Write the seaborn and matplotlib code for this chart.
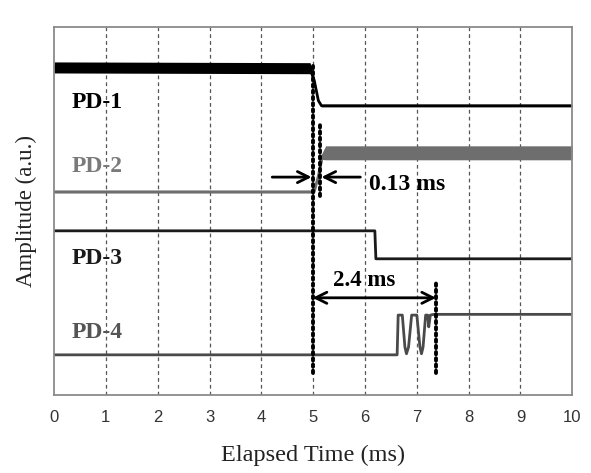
import matplotlib
matplotlib.use("Agg")
import matplotlib.pyplot as plt
from matplotlib import font_manager
import seaborn as sns
import pandas as pd

# ---- data ----
pd1_time = [0.0, 4.94, 5.02, 5.10, 5.16, 10.0]
pd1_amp = [8.90, 8.88, 8.55, 8.00, 7.86, 7.86]
pd1_noise = [0.15, 0.15, 0.06, 0.03, 0.03, 0.03]

pd2_time = [0.0, 5.02, 5.10, 5.18, 5.24, 10.0]
pd2_amp = [5.52, 5.52, 5.95, 6.50, 6.58, 6.58]
pd2_noise = [0.03, 0.03, 0.04, 0.10, 0.19, 0.19]

pd3_time = [0.0, 6.19, 6.21, 10.0]
pd3_amp = [4.46, 4.46, 3.70, 3.70]

pd4_time = [0.0, 6.62, 6.64, 6.72, 6.77, 6.80, 6.84, 6.90, 6.95, 7.00,
            7.06, 7.09, 7.12, 7.17, 7.21, 7.23, 7.26, 7.33, 10.0]
pd4_amp = [1.09, 1.09, 2.17, 2.17, 1.30, 1.12, 1.30, 2.17, 2.17, 2.17,
           1.30, 1.12, 1.30, 2.17, 2.17, 1.85, 2.17, 2.19, 2.19]

trace_labels = ["PD-1", "PD-2", "PD-3", "PD-4"]
label_x = [0.33, 0.33, 0.33, 0.33]
label_y = [7.96, 6.20, 3.72, 1.71]

x_ticks = [0, 1, 2, 3, 4, 5, 6, 7, 8, 9, 10]

marker_times = [4.99, 5.14, 7.37]
marker_ranges = [(8.95, 0.60), (7.40, 5.40), (3.05, 0.60)]

delay_small = "0.13 ms"
delay_large = "2.4 ms"

# ---- figure ----
sns.set_theme(style="white")
plt.rcParams["font.family"] = ["Liberation Serif", "DejaVu Serif"]

installed = {f.name for f in font_manager.fontManager.ttflist}
tick_font = "Liberation Sans Narrow" if "Liberation Sans Narrow" in installed else "Liberation Sans"
tick_size = 14 if tick_font == "Liberation Sans Narrow" else 12

fig = plt.figure(figsize=(5.91, 4.73), dpi=100)
ax = fig.add_axes([0.0914, 0.165, 0.877, 0.778])

traces = [
    (pd1_time, pd1_amp, pd1_noise, "#000000", 2.0),
    (pd2_time, pd2_amp, pd2_noise, "#6e6e6e", 2.0),
    (pd3_time, pd3_amp, None, "#1a1a1a", 2.0),
    (pd4_time, pd4_amp, None, "#4a4a4a", 2.0),
]
for t, a, n, c, lw in traces:
    df = pd.DataFrame({"t": t, "a": a})
    sns.lineplot(data=df, x="t", y="a", ax=ax, color=c, lw=lw,
                 estimator=None, sort=False, legend=False)
    if n is not None:
        lo = [v - e for v, e in zip(a, n)]
        hi = [v + e for v, e in zip(a, n)]
        ax.fill_between(t, lo, hi, color=c, lw=0)

# grid lines
for xt in x_ticks[1:-1]:
    ax.axvline(xt, color="#555555", lw=0.9, ls=(0, (3, 2.5)), zorder=0)

# dotted markers
for mt, (ytop, ybot) in zip(marker_times, marker_ranges):
    ax.plot([mt, mt], [ybot, ytop], color="black", lw=2.8,
            ls=(0, (0.6, 1.0)), dash_capstyle="round", zorder=5)

# arrows for 0.13 ms
arrow_kw = dict(arrowstyle="->", lw=2.0, color="black", mutation_scale=20,
                shrinkA=0, shrinkB=0)
ax.annotate("", xy=(marker_times[0] - 0.02, 5.92), xytext=(4.21, 5.92),
            arrowprops=arrow_kw)
ax.annotate("", xy=(marker_times[1] + 0.02, 5.92), xytext=(5.91, 5.92),
            arrowprops=arrow_kw)
ax.text(6.08, 5.71, delay_small, fontsize=17, fontweight="bold",
        ha="left", va="center", color="black")

# arrow for 2.4 ms
ax.annotate("", xy=(marker_times[2], 2.64), xytext=(marker_times[0], 2.64),
            arrowprops=dict(arrowstyle="<->", lw=2.0, color="black",
                            mutation_scale=20, shrinkA=0, shrinkB=0))
ax.text(5.39, 3.12, delay_large, fontsize=16.5, fontweight="bold",
        ha="left", va="center", color="black")

# trace labels
label_colors = ["#000000", "#7a7a7a", "#1a1a1a", "#555555"]
for lab, lx, ly, lc in zip(trace_labels, label_x, label_y, label_colors):
    ax.text(lx, ly, lab, fontsize=17, fontweight="bold", color=lc,
            ha="left", va="center")

ax.set_xlim(0, 10)
ax.set_ylim(0, 10)
ax.set_xticks(x_ticks)
ax.set_xticklabels([str(v) for v in x_ticks], family=tick_font,
                   fontsize=tick_size, color="#333333")
ax.set_yticks([])
ax.tick_params(axis="x", length=0, pad=11)
ax.set_xlabel("Elapsed Time (ms)", fontsize=17.5, color="#222222", labelpad=14)
ax.set_ylabel("Amplitude (a.u.)", fontsize=16.5, color="#222222", labelpad=12)
for s in ax.spines.values():
    s.set_color("#8a8a8a")
    s.set_linewidth(1.3)

fig.savefig("out.png", dpi=100)
